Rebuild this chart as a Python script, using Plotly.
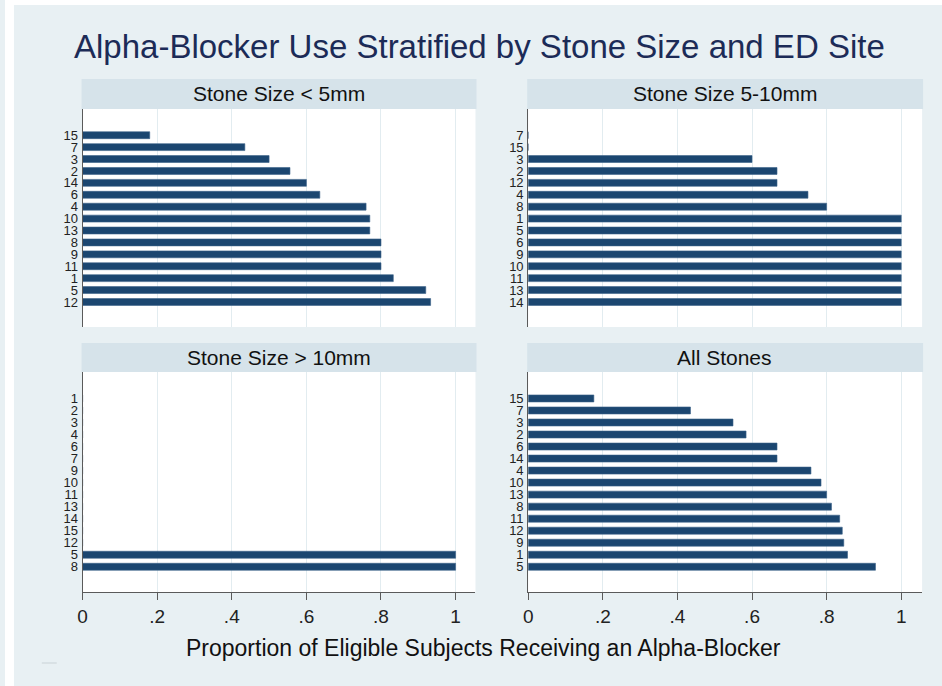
import plotly.graph_objects as go

# ---------------- data ----------------
lt5_sites = ["15", "7", "3", "2", "14", "6", "4", "10", "13", "8", "9", "11", "1", "5", "12"]
lt5_vals = [0.18, 0.435, 0.50, 0.556, 0.60, 0.636, 0.76, 0.77, 0.77, 0.80, 0.80, 0.80, 0.833, 0.92, 0.933]

mid_sites = ["7", "15", "3", "2", "12", "4", "8", "1", "5", "6", "9", "10", "11", "13", "14"]
mid_vals = [0.0, 0.0, 0.60, 0.667, 0.667, 0.75, 0.80, 1.0, 1.0, 1.0, 1.0, 1.0, 1.0, 1.0, 1.0]

gt10_sites = ["1", "2", "3", "4", "6", "7", "9", "10", "11", "13", "14", "15", "12", "5", "8"]
gt10_vals = [0.0, 0.0, 0.0, 0.0, 0.0, 0.0, 0.0, 0.0, 0.0, 0.0, 0.0, 0.0, 0.0, 1.0, 1.0]

all_sites = ["15", "7", "3", "2", "6", "14", "4", "10", "13", "8", "11", "12", "9", "1", "5"]
all_vals = [0.176, 0.435, 0.549, 0.584, 0.667, 0.667, 0.758, 0.785, 0.80, 0.813, 0.835, 0.842, 0.846, 0.856, 0.931]

panel_titles = ["Stone Size < 5mm", "Stone Size 5-10mm", "Stone Size > 10mm", "All Stones"]
x_tickvals = [0, 0.2, 0.4, 0.6, 0.8, 1.0]
x_ticktext = ["0", ".2", ".4", ".6", ".8", "1"]
main_title = "Alpha-Blocker Use Stratified by Stone Size and ED Site"
x_title = "Proportion of Eligible Subjects Receiving an Alpha-Blocker"

# ---------------- styling / layout ----------------
W, H = 942, 686
BG = "#e8f0f3"
STRIP = "#d6e3ea"
GRID = "#e2ecf0"
BAR = "#1b4670"
AX = "#5a5a5a"
FONT = "Liberation Sans, Arial, sans-serif"


def px_x(x):
    return x / W


def px_y(y):
    return 1 - y / H


cols = [(78, 473), (526, 922)]
rows = [(109, 327), (372, 592)]
strips = [(79, 109), (343, 372)]

datasets = [(lt5_sites, lt5_vals), (mid_sites, mid_vals), (gt10_sites, gt10_vals), (all_sites, all_vals)]

fig = go.Figure()
layout = dict(
    width=W, height=H,
    margin=dict(l=0, r=0, t=0, b=0),
    paper_bgcolor=BG,
    plot_bgcolor="white",
    showlegend=False,
    bargap=0.42,
    font=dict(family=FONT, color="#111111"),
)
shapes = []
annotations = []

for i, (sites, vals) in enumerate(datasets):
    r, c = divmod(i, 2)
    n = i + 1
    xa = "x" if n == 1 else f"x{n}"
    ya = "y" if n == 1 else f"y{n}"
    fig.add_trace(go.Bar(
        x=vals, y=sites, orientation="h",
        marker=dict(color=BAR, line=dict(color="#3a6188", width=0.6)),
        xaxis=xa, yaxis=ya, hoverinfo="x+y",
    ))
    x0, x1 = cols[c]
    y0, y1 = rows[r]
    xrange_max = (x1 - x0) / 375.0
    bottom = r == 1
    layout["xaxis" if n == 1 else f"xaxis{n}"] = dict(
        domain=[px_x(x0), px_x(x1)],
        range=[0, xrange_max],
        anchor=ya,
        showgrid=True, gridcolor=GRID, gridwidth=1,
        zeroline=False,
        tickmode="array", tickvals=x_tickvals, ticktext=x_ticktext,
        showticklabels=bottom,
        showline=bottom, linecolor=AX, linewidth=1,
        ticks="outside" if bottom else "", ticklen=7, tickcolor=AX,
        tickfont=dict(size=19, family=FONT, color="#222222"),
        fixedrange=True,
    )
    layout["yaxis" if n == 1 else f"yaxis{n}"] = dict(
        domain=[px_y(y1), px_y(y0)],
        type="category",
        categoryorder="array", categoryarray=sites,
        tickmode="array", tickvals=sites, ticktext=sites,
        range=[16.1, -2.2],
        anchor=xa,
        showgrid=False, zeroline=False,
        showline=True, linecolor=AX, linewidth=1,
        ticks="", ticklabelstandoff=1,
        tickfont=dict(size=13, family=FONT, color="#222222"),
        fixedrange=True,
    )
    # strip header
    s0, s1 = strips[r]
    sx0 = x0 - 1
    shapes.append(dict(type="rect", xref="paper", yref="paper",
                       x0=px_x(sx0), x1=px_x(x1 + 1), y0=px_y(s1), y1=px_y(s0),
                       fillcolor=STRIP, line=dict(width=0), layer="above"))
    annotations.append(dict(text=panel_titles[i], xref="paper", yref="paper",
                            x=px_x((sx0 + x1) / 2), y=px_y((s0 + s1) / 2),
                            xanchor="center", yanchor="middle", showarrow=False,
                            font=dict(size=21, family=FONT, color="#111111")))

# white borders of the image
shapes.append(dict(type="rect", xref="paper", yref="paper", x0=0, x1=1, y0=px_y(5), y1=1,
                   fillcolor="white", line=dict(width=0), layer="above"))
shapes.append(dict(type="rect", xref="paper", yref="paper", x0=0, x1=px_x(9), y0=0, y1=1,
                   fillcolor="white", line=dict(width=0), layer="above"))
# small faint mark in bottom-left corner
shapes.append(dict(type="line", xref="paper", yref="paper", x0=px_x(37), x1=px_x(52),
                   y0=px_y(663), y1=px_y(663), line=dict(color="#c9d2d6", width=1), layer="above"))

annotations.append(dict(text=main_title, xref="paper", yref="paper",
                        x=px_x(477), y=px_y(47), xanchor="center", yanchor="middle",
                        showarrow=False, font=dict(size=33, family=FONT, color="#1c2b57")))
annotations.append(dict(text=x_title, xref="paper", yref="paper",
                        x=px_x(481), y=px_y(648), xanchor="center", yanchor="middle",
                        showarrow=False, font=dict(size=23, family=FONT, color="#111111")))

layout["shapes"] = shapes
layout["annotations"] = annotations
fig.update_layout(**layout)
fig.write_html("out.html")
